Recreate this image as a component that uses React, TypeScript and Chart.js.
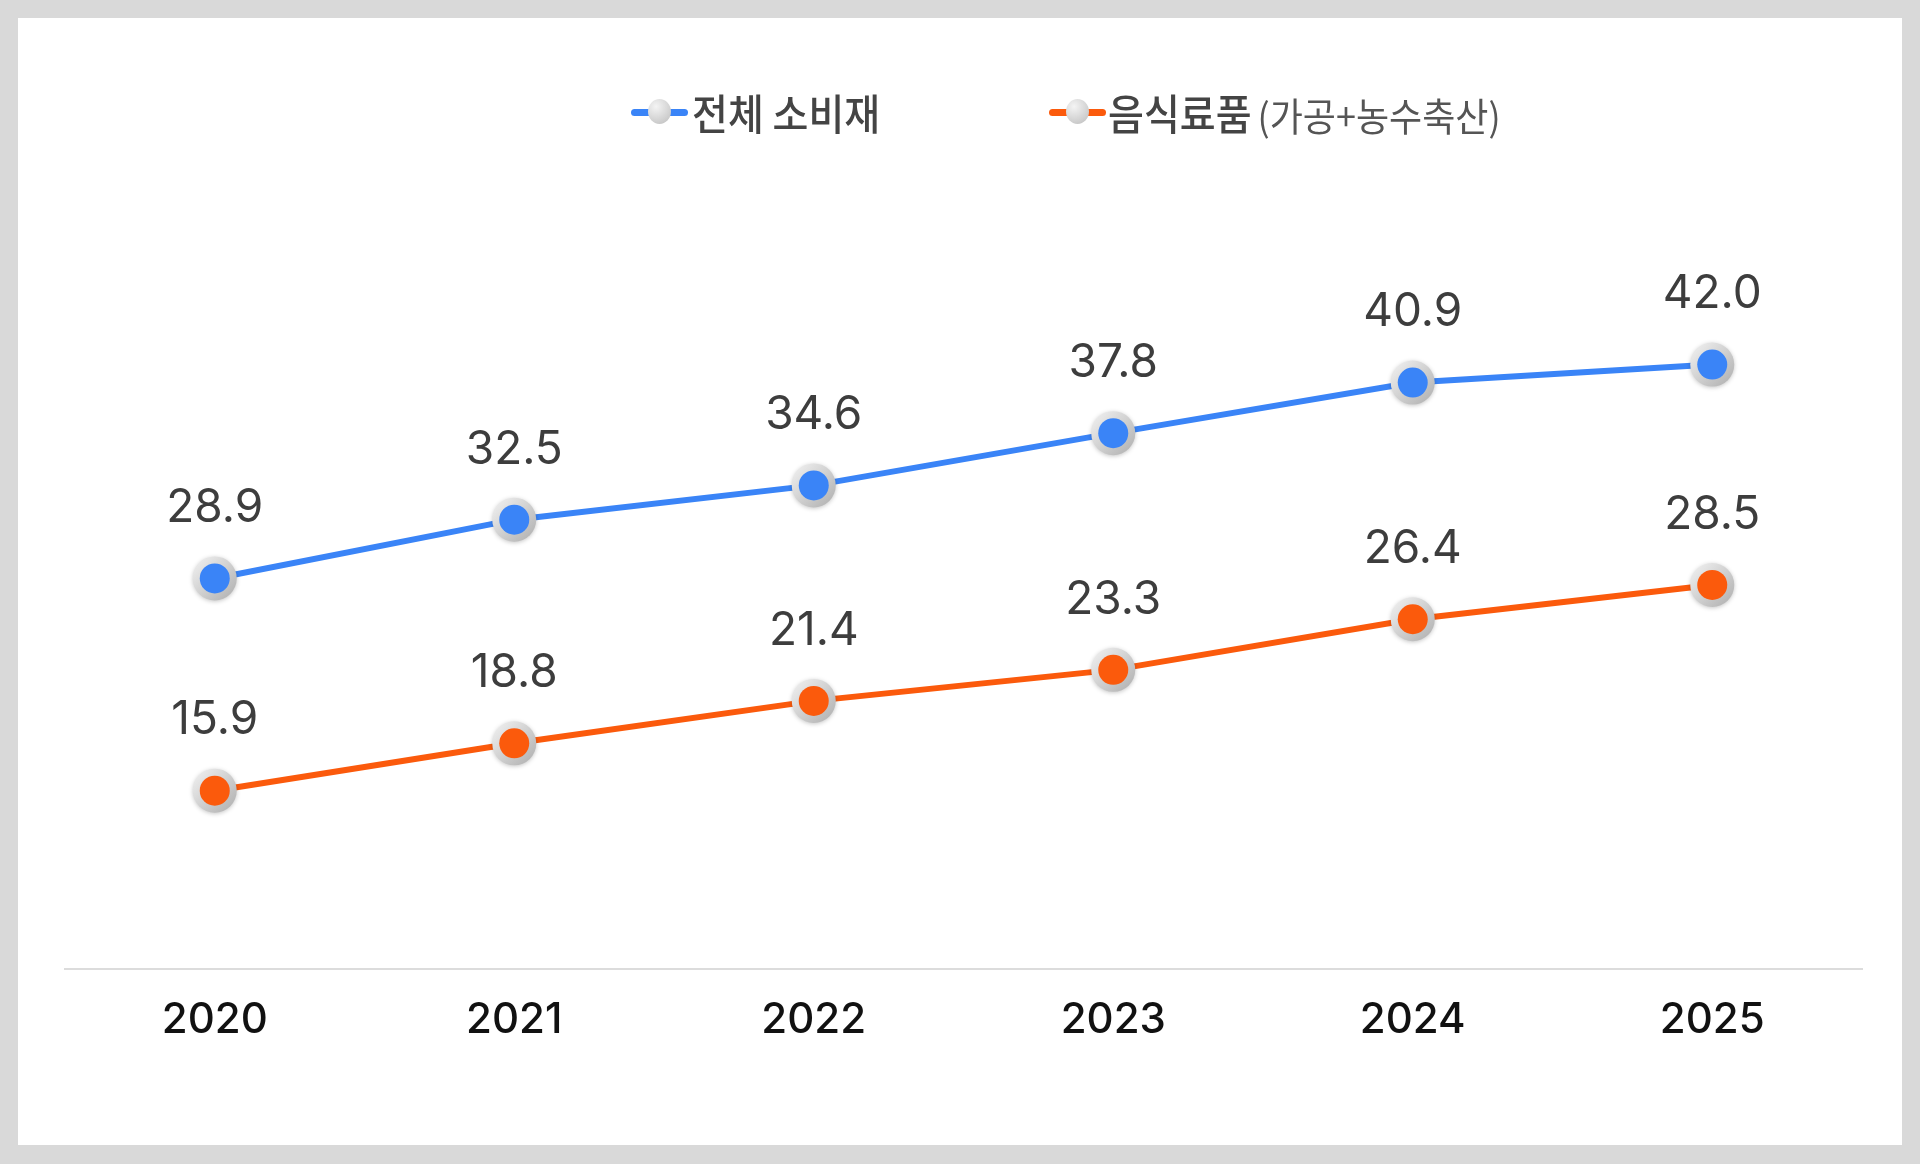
import React, { useEffect, useRef } from "react";
import { Chart, registerables } from "chart.js";

Chart.register(...registerables);

const years = ["2020", "2021", "2022", "2023", "2024", "2025"];
const totalConsumer = [28.9, 32.5, 34.6, 37.8, 40.9, 42.0];
const foodBeverage = [15.9, 18.8, 21.4, 23.3, 26.4, 28.5];
const seriesLabels = ["전체 소비재", "음식료품"];
const foodSubLabel = "(가공+농수축산)";

const BLUE = "#3a84f7";
const ORANGE = "#fb5a0c";

const markerPlugin = {
  id: "ringMarkers",
  afterDatasetDraw(chart: any, args: any) {
    const ctx = chart.ctx;
    const meta = args.meta;
    const color = chart.data.datasets[args.index].borderColor;
    meta.data.forEach((pt: any) => {
      const x = pt.x;
      const y = pt.y;
      ctx.save();
      ctx.shadowColor = "rgba(0,0,0,0.22)";
      ctx.shadowBlur = 4;
      ctx.shadowOffsetY = 1;
      const g = ctx.createLinearGradient(x - 18, y - 18, x + 18, y + 18);
      g.addColorStop(0, "#ededed");
      g.addColorStop(1, "#b4b4b4");
      ctx.beginPath();
      ctx.arc(x, y, 22, 0, Math.PI * 2);
      ctx.fillStyle = g;
      ctx.fill();
      ctx.restore();
      ctx.beginPath();
      ctx.arc(x, y, 15, 0, Math.PI * 2);
      ctx.fillStyle = color;
      ctx.fill();
    });
  },
};

const valueLabelPlugin = {
  id: "valueLabels",
  afterDraw(chart: any) {
    const ctx = chart.ctx;
    ctx.save();
    ctx.font = "46px Inter";
    ctx.fillStyle = "#3d3d3d";
    ctx.textAlign = "center";
    ctx.textBaseline = "middle";
    chart.data.datasets.forEach((ds: any, di: number) => {
      const meta = chart.getDatasetMeta(di);
      meta.data.forEach((pt: any, i: number) => {
        ctx.fillText(Number(ds.data[i]).toFixed(1), pt.x, pt.y - 70);
      });
    });
    ctx.restore();
  },
};

function LegendMarker({ color }: { color: string }) {
  return (
    <div style={{ position: "relative", width: 57, height: 26 }}>
      <div
        style={{
          position: "absolute",
          left: 0,
          top: 9.5,
          width: 57,
          height: 7,
          borderRadius: 4,
          background: color,
        }}
      />
      <div
        style={{
          position: "absolute",
          left: 17,
          top: 0,
          width: 23,
          height: 25,
          borderRadius: "50%",
          background: "radial-gradient(circle at 35% 30%, #f4f4f4, #bcbcbc)",
        }}
      />
    </div>
  );
}

const legendTextMain: React.CSSProperties = {
  fontSize: 39,
  fontWeight: 500,
  display: "inline-block",
  transform: "scaleY(1.08)",
};

export default function App() {
  const canvasRef = useRef<HTMLCanvasElement | null>(null);

  useEffect(() => {
    document.body.style.margin = "0";
    const canvas = canvasRef.current;
    if (!canvas) return;
    const chart = new Chart(canvas, {
      type: "line",
      data: {
        labels: years,
        datasets: [
          {
            label: seriesLabels[0],
            data: totalConsumer,
            borderColor: BLUE,
            backgroundColor: BLUE,
            borderWidth: 6,
            pointRadius: 0,
            pointHoverRadius: 0,
            tension: 0,
            clip: false as any,
          },
          {
            label: seriesLabels[1],
            data: foodBeverage,
            borderColor: ORANGE,
            backgroundColor: ORANGE,
            borderWidth: 6,
            pointRadius: 0,
            pointHoverRadius: 0,
            tension: 0,
            clip: false as any,
          },
        ],
      },
      options: {
        animation: false,
        responsive: false,
        devicePixelRatio: 1,
        layout: { padding: { left: 65, right: 58, top: 234, bottom: 91 } },
        plugins: {
          legend: { display: false },
          tooltip: { enabled: false },
        },
        scales: {
          x: {
            offset: true,
            grid: { display: false, drawTicks: false },
            border: { display: true, color: "#dcdcdc", width: 2 },
            ticks: {
              color: "#111111",
              font: { family: "Inter", size: 42, weight: "500" },
              padding: 27,
            },
          },
          y: {
            display: false,
            min: 5,
            max: 50,
          },
        },
      },
      plugins: [markerPlugin, valueLabelPlugin],
    });
    return () => chart.destroy();
  }, []);

  return (
    <div
      style={{
        position: "fixed",
        left: 0,
        top: 0,
        width: 1920,
        height: 1164,
        background: "#d9d9d9",
        overflow: "hidden",
      }}
    >
      <div
        style={{
          position: "absolute",
          left: 18,
          top: 18,
          width: 1884,
          height: 1127,
          background: "#ffffff",
        }}
      />
      <canvas
        ref={canvasRef}
        width={1920}
        height={1164}
        style={{ position: "absolute", left: 0, top: 0, width: 1920, height: 1164 }}
      />
      <div
        style={{
          position: "absolute",
          left: 631,
          top: 86,
          height: 52,
          display: "flex",
          alignItems: "center",
          fontFamily: "'Noto Sans CJK KR', sans-serif",
          color: "#444444",
        }}
      >
        <LegendMarker color={BLUE} />
        <span style={{ ...legendTextMain, marginLeft: 4 }}>{seriesLabels[0]}</span>
      </div>
      <div
        style={{
          position: "absolute",
          left: 1049,
          top: 86,
          height: 52,
          display: "flex",
          alignItems: "center",
          fontFamily: "'Noto Sans CJK KR', sans-serif",
          color: "#444444",
        }}
      >
        <LegendMarker color={ORANGE} />
        <span style={{ ...legendTextMain, marginLeft: 2 }}>{seriesLabels[1]}</span>
        <span
          style={{
            fontSize: 36,
            fontWeight: 400,
            marginLeft: 6,
            color: "#555555",
            marginTop: 4,
            display: "inline-block",
            transform: "scaleY(1.06)",
          }}
        >
          {foodSubLabel}
        </span>
      </div>
    </div>
  );
}
